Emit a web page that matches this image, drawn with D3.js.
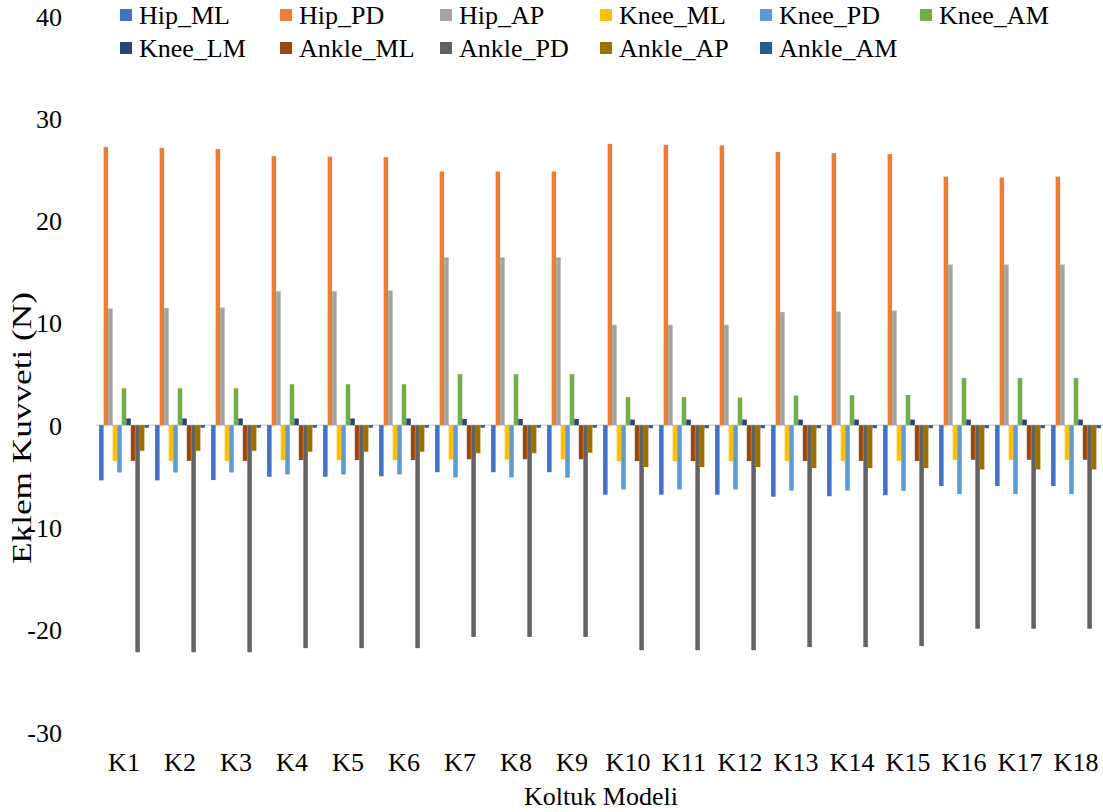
<!DOCTYPE html>
<html><head><meta charset="utf-8">
<script src="https://cdn.jsdelivr.net/npm/d3@7"></script>
<style>body{margin:0;background:#fff}svg{display:block}</style>
</head><body><svg id="c" width="1103" height="812"></svg>
<script>
const categories = ["K1","K2","K3","K4","K5","K6","K7","K8","K9","K10","K11","K12","K13","K14","K15","K16","K17","K18"];
const Hip_ML   = [-5.4,-5.4,-5.37,-5.05,-5.05,-5.0,-4.6,-4.6,-4.6,-6.8,-6.8,-6.8,-7.0,-6.95,-6.85,-5.95,-5.95,-5.95];
const Hip_PD   = [27.2,27.1,27.0,26.3,26.25,26.2,24.8,24.8,24.8,27.5,27.4,27.35,26.7,26.6,26.5,24.3,24.2,24.3];
const Hip_AP   = [11.4,11.45,11.5,13.1,13.1,13.15,16.4,16.4,16.4,9.8,9.8,9.8,11.05,11.1,11.2,15.7,15.7,15.7];
const Knee_ML  = [-3.5,-3.5,-3.5,-3.42,-3.42,-3.42,-3.36,-3.36,-3.35,-3.52,-3.52,-3.52,-3.5,-3.5,-3.49,-3.39,-3.39,-3.39];
const Knee_PD  = [-4.63,-4.63,-4.63,-4.82,-4.82,-4.82,-5.11,-5.11,-5.13,-6.29,-6.29,-6.29,-6.4,-6.4,-6.42,-6.74,-6.74,-6.74];
const Knee_AM  = [3.6,3.6,3.6,4.0,4.0,4.0,4.98,4.98,4.98,2.74,2.74,2.7,2.9,2.93,2.95,4.6,4.6,4.6];
const Knee_LM  = [0.65,0.65,0.65,0.65,0.65,0.65,0.6,0.6,0.6,0.55,0.55,0.55,0.55,0.55,0.55,0.55,0.55,0.55];
const Ankle_ML = [-3.49,-3.49,-3.49,-3.42,-3.42,-3.42,-3.33,-3.33,-3.33,-3.52,-3.52,-3.52,-3.5,-3.5,-3.5,-3.39,-3.39,-3.39];
const Ankle_PD = [-22.2,-22.2,-22.2,-21.8,-21.8,-21.8,-20.7,-20.7,-20.7,-22.0,-22.0,-22.0,-21.7,-21.7,-21.6,-19.9,-19.9,-19.9];
const Ankle_AP = [-2.51,-2.51,-2.51,-2.6,-2.6,-2.6,-2.74,-2.74,-2.7,-4.1,-4.1,-4.1,-4.2,-4.2,-4.2,-4.33,-4.33,-4.33];
const Ankle_AM = [-0.25,-0.25,-0.25,-0.25,-0.25,-0.25,-0.25,-0.25,-0.25,-0.3,-0.3,-0.3,-0.3,-0.3,-0.3,-0.3,-0.3,-0.3];
const seriesNames = ["Hip_ML","Hip_PD","Hip_AP","Knee_ML","Knee_PD","Knee_AM","Knee_LM","Ankle_ML","Ankle_PD","Ankle_AP","Ankle_AM"];
const seriesValues = [Hip_ML,Hip_PD,Hip_AP,Knee_ML,Knee_PD,Knee_AM,Knee_LM,Ankle_ML,Ankle_PD,Ankle_AP,Ankle_AM];
const colors = ["#4472C4","#ED7D31","#A5A5A5","#FFC000","#5B9BD5","#70AD47","#264478","#9E480E","#636363","#997300","#255E91"];
const yTicks = [40,30,20,10,0,-10,-20,-30];
const yTickLabels = ["40","30","20","10","0","-10","-20","-30"];

const FONT = "'Liberation Serif', 'Times New Roman', serif";
const svg = d3.select("#c");
const y = d3.scaleLinear().domain([-30,40]).range([732,16]);
const x0 = d3.scaleBand().domain(categories).range([96,1104]).paddingInner(0.11).paddingOuter(0.055);
const x1 = d3.scaleBand().domain(seriesNames).range([0,x0.bandwidth()]);

// zero line
svg.append("line").attr("x1",96).attr("x2",1103).attr("y1",y(0)).attr("y2",y(0))
  .attr("stroke","#D9D9D9").attr("stroke-width",1.5);

// bars
const g = svg.append("g");
seriesNames.forEach((s,si)=>{
  g.selectAll(null).data(seriesValues[si]).enter().append("rect")
    .attr("x",(d,i)=>x0(categories[i])+x1(s))
    .attr("width",x1.bandwidth())
    .attr("y",d=>Math.min(y(d),y(0)))
    .attr("height",d=>Math.abs(y(d)-y(0)))
    .attr("fill",colors[si]);
});

// y axis
const ya = svg.append("g").attr("transform","translate(62,0)")
  .call(d3.axisLeft(y).tickValues(yTicks).tickSize(0).tickPadding(0)
    .tickFormat((d,i)=>yTickLabels[i]));
ya.select(".domain").remove();

// x axis labels
const xa = svg.append("g").attr("transform","translate(0,750)")
  .call(d3.axisBottom(x0).tickSize(0).tickPadding(0));
xa.select(".domain").remove();
xa.selectAll("text").attr("dy","0.35em").attr("y",12);
ya.selectAll("text").attr("dy","0.35em");

// titles
svg.append("text").attr("x",601).attr("y",796).attr("text-anchor","middle").attr("dy","0.35em")
  .text("Koltuk Modeli");
svg.append("text").attr("class","ytitle").attr("transform","translate(21,428) rotate(-90)").attr("text-anchor","middle").attr("dy","0.35em")
  .attr("textLength",272).attr("lengthAdjust","spacingAndGlyphs").text("Eklem Kuvveti (N)");

// legend
const legX = [120,280,440,600,760,920];
const legY = [15,48];
seriesNames.forEach((s,i)=>{
  const col = i<6 ? i : i-6, row = i<6 ? 0 : 1;
  const lg = svg.append("g").attr("transform",`translate(${legX[col]},${legY[row]})`);
  lg.append("rect").attr("x",0).attr("y",-6).attr("width",12).attr("height",12).attr("fill",colors[i]);
  lg.append("text").attr("x",19).attr("y",0).attr("dy","0.35em").text(s);
});

svg.selectAll("g").attr("font-family",null).attr("font-size",null);
svg.selectAll("text").style("font-family",FONT).style("font-size","26px").style("fill","#000");
svg.select(".ytitle").style("font-size","28px");
</script></body></html>
